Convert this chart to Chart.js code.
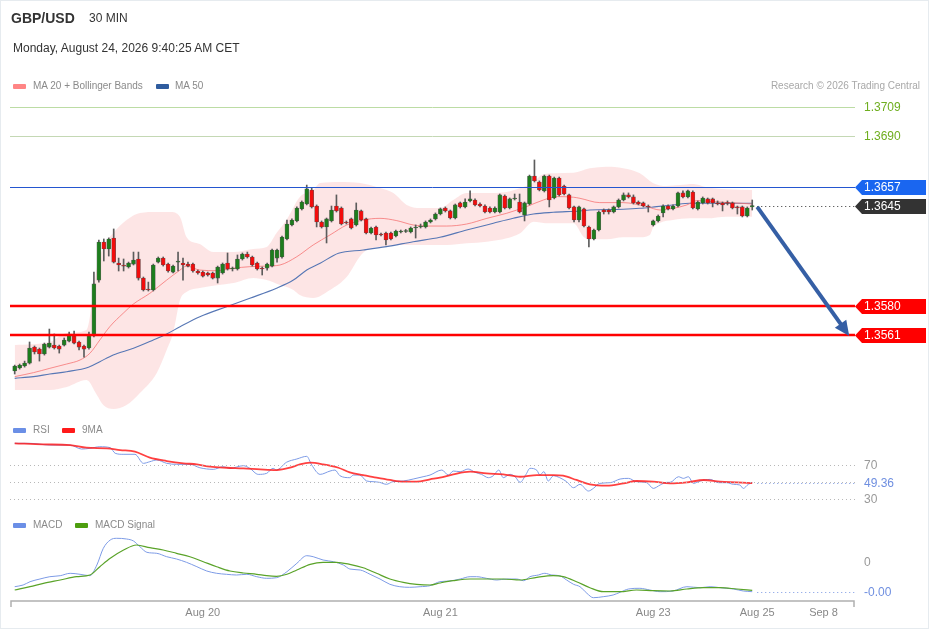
<!DOCTYPE html>
<html>
<head>
<meta charset="utf-8">
<script src="https://cdn.jsdelivr.net/npm/chart.js@4.4.0/dist/chart.umd.min.js"></script>
<style>
html,body{margin:0;padding:0;background:#fff;}
#wrap{position:relative;width:929px;height:629px;overflow:hidden;font-family:"Liberation Sans",Arial,sans-serif;}
#c{position:absolute;left:0;top:0;}
#frame{position:absolute;left:0;top:0;width:929px;height:629px;box-sizing:border-box;border:1px solid #e6ebef;pointer-events:none;}
.t{position:absolute;white-space:nowrap;line-height:1;}
.sw{position:absolute;height:5px;width:13px;border-radius:1px;}
.lg{font-size:10px;color:#8a8a8a;}
</style>
</head>
<body>
<div id="wrap">
  <canvas id="c" width="929" height="629"></canvas>
  <div class="t" style="left:11px;top:11px;font-size:14px;font-weight:bold;color:#333;">GBP/USD</div>
  <div class="t" style="left:89px;top:12px;font-size:12px;color:#333;">30 MIN</div>
  <div class="t" style="left:13px;top:42px;font-size:12px;color:#333;">Monday, August 24, 2026 9:40:25 AM CET</div>

  <div class="sw" style="left:13px;top:84px;background:#ff8585;"></div>
  <div class="t lg" style="left:33px;top:81px;">MA 20 + Bollinger Bands</div>
  <div class="sw" style="left:156px;top:84px;background:#2f5c9e;"></div>
  <div class="t lg" style="left:175px;top:81px;">MA 50</div>
  <div class="t lg" style="right:9px;top:81px;color:#a8a8a8;">Research © 2026 Trading Central</div>

  <div class="sw" style="left:13px;top:428px;background:#6b8fe6;"></div>
  <div class="t lg" style="left:33px;top:425px;">RSI</div>
  <div class="sw" style="left:62px;top:428px;background:#ff1a1a;"></div>
  <div class="t lg" style="left:82px;top:425px;">9MA</div>

  <div class="sw" style="left:13px;top:523px;background:#6b8fe6;"></div>
  <div class="t lg" style="left:33px;top:520px;">MACD</div>
  <div class="sw" style="left:75px;top:523px;background:#4d9e0f;"></div>
  <div class="t lg" style="left:95px;top:520px;">MACD Signal</div>
  <div id="frame"></div>
</div>
<script>
// ---------- DATA ----------
const opens = [1.35376,1.35395,1.35408,1.35427,1.35531,1.35518,1.35486,1.35531,1.35544,1.35538,
1.35544,1.35570,1.35603,1.35564,1.35538,1.35525,1.35603,1.35966,1.36213,1.36168,
1.36239,1.36077,1.36064,1.36051,1.36070,1.36103,1.35979,1.35908,1.35902,1.36083,
1.36109,1.36070,1.36018,1.36083,1.36077,1.36070,1.36070,1.36025,1.36018,1.36012,
1.36012,1.35979,1.36012,1.36077,1.36038,1.36038,1.36103,1.36135,1.36116,1.36077,
1.36044,1.36044,1.36057,1.36109,1.36116,1.36233,1.36324,1.36350,1.36428,1.36460,
1.36551,1.36447,1.36343,1.36311,1.36350,1.36447,1.36434,1.36343,1.36363,1.36324,
1.36415,1.36363,1.36272,1.36311,1.36265,1.36272,1.36272,1.36252,1.36278,1.36282,
1.36278,1.36304,1.36311,1.36311,1.36343,1.36363,1.36395,1.36434,1.36415,1.36369,
1.36467,1.36441,1.36480,1.36486,1.36460,1.36447,1.36434,1.36408,1.36408,1.36512,
1.36434,1.36493,1.36473,1.36389,1.36460,1.36642,1.36603,1.36545,1.36642,1.36499,
1.36629,1.36577,1.36519,1.36441,1.36356,1.36428,1.36311,1.36233,1.36291,1.36421,
1.36421,1.36408,1.36441,1.36486,1.36519,1.36506,1.36473,1.36467,1.36447,1.36324,
1.36350,1.36402,1.36447,1.36428,1.36447,1.36532,1.36506,1.36538,1.36428,1.36467,
1.36493,1.36493,1.36467,1.36467,1.36470,1.36467,1.36441,1.36441,1.36382,1.36441];
const highs = [1.35414,1.35421,1.35440,1.35564,1.35538,1.35525,1.35557,1.35648,1.35616,1.35544,
1.35590,1.35629,1.35635,1.35570,1.35544,1.35629,1.36018,1.36226,1.36233,1.36240,
1.36298,1.36109,1.36103,1.36083,1.36148,1.36148,1.35986,1.35953,1.36070,1.36116,
1.36116,1.36077,1.36064,1.36148,1.36109,1.36083,1.36077,1.36031,1.36025,1.36018,
1.36018,1.36057,1.36077,1.36142,1.36051,1.36129,1.36142,1.36148,1.36122,1.36083,
1.36051,1.36077,1.36168,1.36168,1.36252,1.36356,1.36363,1.36441,1.36480,1.36583,
1.36564,1.36454,1.36350,1.36369,1.36447,1.36519,1.36441,1.36350,1.36369,1.36467,
1.36421,1.36369,1.36311,1.36317,1.36272,1.36278,1.36278,1.36291,1.36291,1.36295,
1.36311,1.36324,1.36330,1.36350,1.36363,1.36402,1.36434,1.36441,1.36421,1.36460,
1.36473,1.36493,1.36545,1.36493,1.36467,1.36454,1.36441,1.36441,1.36525,1.36519,
1.36499,1.36525,1.36525,1.36473,1.36648,1.36746,1.36610,1.36648,1.36648,1.36635,
1.36635,1.36583,1.36525,1.36447,1.36447,1.36434,1.36317,1.36298,1.36415,1.36428,
1.36428,1.36447,1.36493,1.36532,1.36532,1.36519,1.36480,1.36473,1.36454,1.36356,
1.36389,1.36454,1.36454,1.36454,1.36538,1.36545,1.36551,1.36545,1.36480,1.36506,
1.36499,1.36499,1.36480,1.36473,1.36480,1.36473,1.36447,1.36447,1.36441,1.36486];
const lows = [1.35356,1.35388,1.35401,1.35421,1.35486,1.35440,1.35479,1.35525,1.35518,1.35492,
1.35538,1.35564,1.35551,1.35512,1.35466,1.35518,1.35597,1.35953,1.36090,1.36122,
1.36077,1.36025,1.36025,1.36044,1.36064,1.35966,1.35895,1.35895,1.35895,1.36077,
1.36057,1.36018,1.36012,1.36025,1.35966,1.36051,1.36018,1.36005,1.35986,1.35992,
1.35973,1.35947,1.36005,1.36031,1.36025,1.36031,1.36096,1.36109,1.36057,1.36031,
1.35999,1.36031,1.36051,1.36083,1.36109,1.36226,1.36317,1.36343,1.36421,1.36454,
1.36434,1.36311,1.36304,1.36207,1.36343,1.36408,1.36324,1.36330,1.36298,1.36317,
1.36350,1.36265,1.36265,1.36226,1.36252,1.36194,1.36226,1.36246,1.36272,1.36275,
1.36272,1.36239,1.36304,1.36304,1.36337,1.36356,1.36389,1.36408,1.36363,1.36363,
1.36434,1.36434,1.36473,1.36447,1.36441,1.36402,1.36402,1.36402,1.36402,1.36428,
1.36428,1.36486,1.36402,1.36350,1.36454,1.36603,1.36545,1.36538,1.36441,1.36493,
1.36512,1.36519,1.36428,1.36343,1.36343,1.36311,1.36181,1.36226,1.36285,1.36395,
1.36395,1.36402,1.36434,1.36480,1.36499,1.36460,1.36454,1.36441,1.36408,1.36317,
1.36343,1.36376,1.36421,1.36421,1.36441,1.36499,1.36499,1.36428,1.36421,1.36460,
1.36460,1.36441,1.36454,1.36415,1.36454,1.36428,1.36395,1.36376,1.36376,1.36421];
const closes = [1.35408,1.35414,1.35427,1.35525,1.35499,1.35486,1.35551,1.35557,1.35525,1.35518,
1.35577,1.35616,1.35557,1.35531,1.35518,1.35603,1.35941,1.36213,1.36168,1.36233,
1.36083,1.36064,1.36057,1.36077,1.36096,1.35979,1.35902,1.35902,1.36064,1.36109,
1.36064,1.36025,1.36057,1.36090,1.36064,1.36057,1.36025,1.36012,1.35992,1.35999,
1.35979,1.36051,1.36070,1.36038,1.36044,1.36103,1.36135,1.36116,1.36064,1.36038,
1.36038,1.36070,1.36161,1.36161,1.36246,1.36330,1.36356,1.36434,1.36473,1.36558,
1.36441,1.36343,1.36311,1.36363,1.36421,1.36415,1.36330,1.36337,1.36304,1.36421,
1.36356,1.36272,1.36304,1.36259,1.36259,1.36226,1.36233,1.36285,1.36285,1.36288,
1.36304,1.36311,1.36317,1.36343,1.36356,1.36395,1.36428,1.36415,1.36369,1.36454,
1.36441,1.36473,1.36493,1.36454,1.36447,1.36408,1.36408,1.36434,1.36519,1.36434,
1.36493,1.36499,1.36408,1.36467,1.36642,1.36610,1.36551,1.36642,1.36486,1.36629,
1.36519,1.36525,1.36434,1.36356,1.36441,1.36317,1.36233,1.36291,1.36408,1.36408,
1.36408,1.36441,1.36486,1.36519,1.36506,1.36467,1.36460,1.36447,1.36441,1.36350,
1.36382,1.36447,1.36428,1.36447,1.36532,1.36506,1.36545,1.36434,1.36473,1.36499,
1.36467,1.36467,1.36460,1.36454,1.36464,1.36434,1.36434,1.36382,1.36434,1.36450];

const ma20 = [[0,1.35339],[3.8,1.35365],[7.1,1.35393],[10.5,1.35421],[13.2,1.35447],[15.2,1.35491],[17.2,1.35577],[19.2,1.35663],[21.9,1.35750],[24,1.35811],[27.3,1.35880],[30.7,1.35966],[33.4,1.36031],[34.7,1.36057],[37.4,1.36031],[40.8,1.36027],[44.2,1.36043],[47.5,1.36053],[50.9,1.36057],[53.6,1.36064],[57,1.36118],[60.3,1.36194],[63.7,1.36259],[67.1,1.36324],[70.4,1.36356],[73.8,1.36367],[77.2,1.36352],[80.5,1.36324],[83.9,1.36317],[87.3,1.36317],[91.3,1.36330],[95.4,1.36367],[99.4,1.36400],[103.4,1.36443],[106.8,1.36486],[109.5,1.36508],[112.9,1.36504],[114.2,1.36497],[118.2,1.36469],[122.9,1.36469],[127.7,1.36443],[130.4,1.36421],[133,1.36432],[135.8,1.36454],[137.8,1.36482],[141.2,1.36475],[146.5,1.36465],[149,1.36460]];
const ma50 = [[0,1.35328],[3.8,1.35339],[7.1,1.35356],[10.5,1.35371],[14.9,1.35400],[17.2,1.35436],[19.9,1.35480],[24,1.35523],[28,1.35577],[30.7,1.35616],[33.4,1.35663],[37.4,1.35728],[42.8,1.35793],[47.5,1.35848],[52.9,1.35913],[56.3,1.35966],[59,1.36031],[61.7,1.36075],[65.4,1.36140],[70.4,1.36161],[75.1,1.36183],[80.5,1.36215],[85.9,1.36244],[91.3,1.36291],[96.7,1.36335],[100.7,1.36367],[104.8,1.36395],[108.8,1.36406],[114.2,1.36415],[116.2,1.36421],[122.9,1.36426],[126.3,1.36432],[129.7,1.36443],[133,1.36454],[136.4,1.36465],[143.1,1.36465],[149,1.36465]];
const bbUpper = [[0,1.35544],[7.1,1.35564],[10.5,1.35622],[14.5,1.35642],[16.6,1.36045],[17.9,1.36181],[19.9,1.36272],[22.6,1.36356],[25.3,1.36402],[28.7,1.36408],[31.4,1.36408],[33.4,1.36376],[34.7,1.36246],[37.4,1.36200],[40.1,1.36148],[44.2,1.36148],[48.2,1.36168],[50.9,1.36181],[52.9,1.36272],[54.9,1.36356],[57.6,1.36506],[60.3,1.36551],[61.7,1.36596],[65.7,1.36603],[69.8,1.36596],[73.8,1.36564],[76.5,1.36531],[79.2,1.36454],[81.9,1.36434],[85.9,1.36434],[88.6,1.36486],[91.3,1.36531],[95.4,1.36531],[99.4,1.36538],[102.1,1.36564],[104.8,1.36600],[106.5,1.36650],[109,1.36660],[112.9,1.36663],[116.2,1.36692],[119.6,1.36702],[122.9,1.36692],[126.3,1.36659],[129,1.36595],[131.7,1.36577],[134.4,1.36583],[137.1,1.36590],[139.8,1.36569],[143.8,1.36556],[149,1.36551]];
const bbLower = [[0,1.35252],[7.1,1.35252],[10.5,1.35272],[14.5,1.35317],[16.6,1.35220],[17.9,1.35155],[19.9,1.35129],[22.6,1.35155],[25.3,1.35233],[28.7,1.35363],[30.7,1.35512],[32,1.35622],[33.4,1.35837],[34.7,1.35889],[37.4,1.35915],[44.2,1.35947],[48.2,1.35980],[50.9,1.35966],[53.6,1.35934],[56.3,1.35902],[57.6,1.35869],[60.3,1.35850],[63.7,1.35902],[67.1,1.35988],[69.7,1.36118],[71.1,1.36161],[73.8,1.36183],[77.8,1.36194],[83.2,1.36194],[87.3,1.36194],[91.3,1.36205],[95.4,1.36215],[99.4,1.36237],[102.1,1.36270],[104.8,1.36345],[107.5,1.36335],[112.9,1.36335],[114.9,1.36248],[116.2,1.36231],[119.6,1.36231],[122.9,1.36244],[126.3,1.36244],[128.3,1.36259],[129,1.36309],[130.4,1.36339],[133,1.36356],[136.4,1.36367],[139.8,1.36367],[143.8,1.36378],[149,1.36378]];

const rsi = [[0,95.5],[3.1,95.5],[7.1,93.5],[11.2,93.5],[13.5,88.8],[15.2,89.6],[17.2,91.5],[19.3,90.4],[20.3,83.8],[21.9,82.6],[24.3,82.6],[26,72],[27.3,73.9],[28.7,75.9],[30.7,72],[32.7,70.8],[35.4,70.8],[37.4,66.8],[40.1,64.9],[42.1,68],[43.5,66.1],[46.2,69.2],[47.5,66.1],[49.2,59],[50.9,60.2],[52.2,66.1],[52.9,64.1],[54.9,73.2],[57,77.1],[59,80.2],[60,70],[61.7,59],[63.7,62.9],[64.7,64.1],[65.7,57.4],[67.7,55.1],[68.4,58.2],[69.7,58.2],[71.1,51.2],[72.4,50.4],[73.7,49.6],[75.1,47.3],[76.4,50.4],[78.5,51.2],[80.5,53.5],[82.5,56.2],[83.9,58.2],[86.3,64.1],[87.6,58.2],[88.6,62.9],[90,62.2],[91.6,65.3],[93,61.4],[94.3,59],[95.7,55.1],[96.7,57.4],[97.8,64.1],[98.7,55.1],[100.1,59],[101.1,56.2],[102.1,49.6],[103.3,59],[104.1,66.1],[105.5,63.7],[106.1,58.2],[106.9,62.2],[107.8,51.2],[108.8,57.4],[110.1,55.1],[111.5,50.4],[112.9,43.3],[114.2,47.3],[115.9,39.4],[116.9,42.5],[118.2,48.4],[120.3,49.2],[122.3,53.5],[124,54.3],[125.6,50.4],[127.7,49.2],[129,42.5],[130.4,46.5],[131.7,49.6],[132.4,49.6],[134.1,56.2],[135.1,54.3],[136.1,56.2],[137.1,48.4],[138.5,51.2],[140.5,53.1],[142.2,49.2],[143.8,49.2],[145.2,47.3],[146.5,46.5],[147.2,42.5],[148.2,47.3],[149,49.36]];
const rsiMA9 = [[0,95.5],[5.8,94.3],[11.2,93.5],[14.5,90.4],[18.6,89.6],[21.3,87.6],[24.3,85.7],[27.3,78.6],[30.7,74.7],[34.1,72],[36.8,70.8],[39.5,68],[42.8,66.8],[46.2,66.1],[49.6,64.9],[52.9,64.1],[55.6,66.8],[57.6,70.8],[59.7,72.7],[62.3,70.8],[65.4,66.8],[67.7,61.4],[70.4,58.2],[73.1,55.1],[75.8,52.4],[78.5,50.4],[81.2,50.4],[83.9,53.2],[85.9,55.1],[88.6,59],[92,62.2],[95.3,60.2],[98.7,59],[102.1,56.2],[105.5,58.2],[108.8,58.2],[110.8,57.4],[113.5,52.4],[116.2,47.3],[119.6,45.7],[123,48.4],[125.6,51.2],[129,50.4],[132.4,48.4],[135.8,49.6],[139.2,52.4],[142.5,50.4],[145.9,49.6],[149,48.6]];

const macd = [[0,-2.47e-4],[1.7,-2.3e-4],[3.1,-1.97e-4],[5.1,-1.7e-4],[7.1,-1.47e-4],[9.2,-1.37e-4],[11.2,-1.13e-4],[13.2,-1.23e-4],[15.2,-1.37e-4],[16.6,-0.3e-4],[17.9,1.37e-4],[19.3,2.2e-4],[20.6,2.37e-4],[22.6,2.3e-4],[24,2.1e-4],[25.3,1.53e-4],[26.7,0.97e-4],[28.7,0.87e-4],[30.7,0.53e-4],[32.7,0.3e-4],[34.7,-0.03e-4],[36.8,-0.47e-4],[38.8,-0.9e-4],[40.8,-1.13e-4],[42.8,-1.23e-4],[44.8,-1.3e-4],[46.9,-1.23e-4],[48.9,-1.47e-4],[50.9,-1.63e-4],[52.9,-1.57e-4],[55,-0.97e-4],[57,-0.13e-4],[59,0.63e-4],[60.3,0.53e-4],[62.3,0.2e-4],[64.4,0.03e-4],[66.4,-0.3e-4],[67.7,-0.7e-4],[69.8,-0.8e-4],[71.8,-1.23e-4],[73.8,-1.7e-4],[75.8,-2.23e-4],[77.8,-2.47e-4],[79.8,-2.53e-4],[81.9,-2.47e-4],[83.9,-2.37e-4],[85.9,-1.97e-4],[87.9,-1.9e-4],[90,-1.7e-4],[92,-1.47e-4],[93.3,-1.47e-4],[95.3,-1.63e-4],[97.4,-1.8e-4],[99.4,-1.7e-4],[101.4,-1.7e-4],[102.8,-1.87e-4],[104.1,-1.47e-4],[105.8,-1.3e-4],[107.1,-1.13e-4],[108.5,-1.3e-4],[110.1,-1.37e-4],[111.5,-1.8e-4],[112.9,-2.23e-4],[114.2,-2.47e-4],[115.6,-3.13e-4],[116.9,-3.57e-4],[118.9,-3.47e-4],[120.9,-3.3e-4],[122.3,-3.03e-4],[124,-2.7e-4],[126.3,-2.63e-4],[128.3,-2.8e-4],[130.4,-2.97e-4],[133,-2.9e-4],[135.8,-2.47e-4],[138.5,-2.57e-4],[140.5,-2.47e-4],[142.5,-2.57e-4],[145.2,-2.7e-4],[147.2,-2.9e-4],[149,-2.97e-4]];
const macdSignal = [[0,-2.8e-4],[3.1,-2.47e-4],[5.8,-2.13e-4],[9.2,-1.8e-4],[12.5,-1.47e-4],[15.2,-1.3e-4],[17.2,-0.47e-4],[19.3,0.37e-4],[22,1.2e-4],[24.6,1.7e-4],[27.3,1.43e-4],[30,1.2e-4],[32.7,0.87e-4],[35.4,0.53e-4],[38.1,0.03e-4],[40.8,-0.47e-4],[43.5,-0.9e-4],[46.2,-1.1e-4],[48.9,-1.23e-4],[50.9,-1.37e-4],[52.9,-1.43e-4],[55,-1.23e-4],[57,-0.8e-4],[59.7,-0.23e-4],[62.3,-0.03e-4],[65,-0.03e-4],[67.7,-0.23e-4],[70.4,-0.57e-4],[73.1,-1.13e-4],[75.8,-1.7e-4],[78.5,-2.03e-4],[81.2,-2.23e-4],[83.9,-2.3e-4],[85.9,-2.1e-4],[88.6,-1.87e-4],[92,-1.7e-4],[95.3,-1.7e-4],[98.7,-1.7e-4],[102.1,-1.8e-4],[105.5,-1.53e-4],[108.8,-1.37e-4],[110.8,-1.47e-4],[113.5,-1.97e-4],[116.2,-2.57e-4],[118.9,-2.97e-4],[122.3,-2.97e-4],[125.6,-2.8e-4],[129,-2.87e-4],[132.4,-2.9e-4],[135.8,-2.7e-4],[139.2,-2.57e-4],[142.5,-2.57e-4],[145.9,-2.7e-4],[149,-2.83e-4]];

const levels = [1.3709, 1.3690, 1.3657, 1.3645, 1.3580, 1.3561];
const rsiLevels = [70, 50, 30];
const rsiLast = 49.36;
const macdZero = 0;
const macdLast = -2.97e-4;
const xTickPos = [38, 86, 129, 150, 163.4];
const xTickLabels = ['Aug 20', 'Aug 21', 'Aug 23', 'Aug 25', 'Sep 8'];
const arrowFrom = [150, 1.36441];
const arrowTo = [168.6, 1.35603];

// ---------- CHART ----------
const idx = opens.map((_, i) => i);
const GREEN = '#1d7d1d', RED = '#f20d0d';
const FONT = '"Liberation Sans", Arial, sans-serif';

const overlay = {
  id: 'overlay',
  afterDatasetsDraw(chart) {
    const {ctx, chartArea: ca, scales} = chart;
    const X = scales.x, P = scales.yP, R = scales.yR, M = scales.yM;
    const L = ca.left, RT = ca.right;
    const lastX = X.getPixelForValue(opens.length - 1) + 5;
    ctx.save();
    function hline(y, x1, x2, color, w, dash) {
      ctx.beginPath();
      ctx.setLineDash(dash || []);
      ctx.strokeStyle = color; ctx.lineWidth = w;
      ctx.moveTo(x1, y); ctx.lineTo(x2, y); ctx.stroke();
      ctx.setLineDash([]);
    }
    function tag(y, text, bg) {
      ctx.fillStyle = bg;
      ctx.beginPath();
      ctx.moveTo(RT, y); ctx.lineTo(RT + 7, y - 7.5); ctx.lineTo(RT + 71, y - 7.5);
      ctx.lineTo(RT + 71, y + 7.5); ctx.lineTo(RT + 7, y + 7.5); ctx.closePath(); ctx.fill();
      ctx.fillStyle = '#fff'; ctx.font = '12px ' + FONT; ctx.textBaseline = 'middle'; ctx.textAlign = 'left';
      ctx.fillText(text, RT + 9, y + 0.5);
    }
    function txt(y, text, color) {
      ctx.fillStyle = color; ctx.font = '12px ' + FONT; ctx.textBaseline = 'middle'; ctx.textAlign = 'left';
      ctx.fillText(text, RT + 9, y + 0.5);
    }
    // price levels
    const py = levels.map(v => Math.round(P.getPixelForValue(v)) + 0.5);
    hline(py[0], L, RT, '#bcdca4', 1); txt(py[0], levels[0].toFixed(4), '#6fae1f');
    hline(py[1], L, RT, '#c4d8b4', 1); txt(py[1], levels[1].toFixed(4), '#6fae1f');
    hline(py[2], L, RT, '#2456d0', 1); tag(py[2], levels[2].toFixed(4), '#1a66f0');
    hline(py[3], lastX, RT, '#333', 1, [1, 3]); tag(py[3], levels[3].toFixed(4), '#333333');
    hline(py[4] - 0.5, L, RT, '#ff0000', 2.5); tag(py[4], levels[4].toFixed(4), '#ff0000');
    hline(py[5] - 0.5, L, RT, '#ff0000', 2.5); tag(py[5], levels[5].toFixed(4), '#ff0000');

    // arrow
    const ax1 = X.getPixelForValue(arrowFrom[0]), ay1 = P.getPixelForValue(arrowFrom[1]);
    const ax2 = X.getPixelForValue(arrowTo[0]), ay2 = P.getPixelForValue(arrowTo[1]);
    const ang = Math.atan2(ay2 - ay1, ax2 - ax1);
    const hl = 15, hw = 7;
    const bx = ax2 - hl * Math.cos(ang), by = ay2 - hl * Math.sin(ang);
    ctx.strokeStyle = '#355fa5'; ctx.lineWidth = 4; ctx.lineCap = 'butt';
    ctx.beginPath(); ctx.moveTo(ax1, ay1); ctx.lineTo(bx + 2 * Math.cos(ang), by + 2 * Math.sin(ang)); ctx.stroke();
    ctx.fillStyle = '#355fa5';
    ctx.beginPath();
    ctx.moveTo(ax2, ay2);
    ctx.lineTo(bx + hw * Math.sin(ang), by - hw * Math.cos(ang));
    ctx.lineTo(bx - hw * Math.sin(ang), by + hw * Math.cos(ang));
    ctx.closePath(); ctx.fill();

    // RSI panel
    rsiLevels.forEach(v => hline(Math.round(R.getPixelForValue(v)) + 0.5, L, RT, '#b8b8b8', 1, [1, 3]));
    txt(R.getPixelForValue(rsiLevels[0]), String(rsiLevels[0]), '#999');
    txt(R.getPixelForValue(rsiLevels[2]), String(rsiLevels[2]), '#999');
    const ry = Math.round(R.getPixelForValue(rsiLast)) + 0.5;
    hline(ry, lastX, RT, '#7b98e4', 1, [1, 3]);
    txt(ry, rsiLast.toFixed(2), '#6f8fe0');

    // MACD panel
    txt(M.getPixelForValue(macdZero), String(macdZero), '#999');
    const my = Math.round(M.getPixelForValue(macdLast)) + 0.5;
    hline(my, lastX, RT, '#7b98e4', 1, [1, 3]);
    txt(my, macdLast.toFixed(2), '#6f8fe0');

    // x axis
    const yb = ca.bottom + 1;
    ctx.strokeStyle = '#b0b0b0'; ctx.lineWidth = 1.5;
    ctx.beginPath();
    ctx.moveTo(L + 1, yb + 6); ctx.lineTo(L + 1, yb); ctx.lineTo(RT - 1, yb); ctx.lineTo(RT - 1, yb + 6);
    ctx.stroke();
    ctx.fillStyle = '#888'; ctx.font = '11px ' + FONT; ctx.textAlign = 'center'; ctx.textBaseline = 'middle';
    xTickPos.forEach((v, k) => ctx.fillText(xTickLabels[k], X.getPixelForValue(v), yb + 12));
    ctx.restore();
  }
};

const lineDs = (data, color, w, axis, order) => ({
  type: 'line', data, borderColor: color, borderWidth: w, pointRadius: 0,
  tension: 0.3, cubicInterpolationMode: 'monotone', fill: false, yAxisID: axis, order
});

new Chart(document.getElementById('c'), {
  type: 'line',
  data: {
    datasets: [
      { type: 'bar', label: 'body', order: 1, yAxisID: 'yP', grouped: false, barThickness: 4,
        data: idx.map(i => ({x: i, y: [opens[i], closes[i]]})),
        backgroundColor: idx.map(i => closes[i] >= opens[i] ? GREEN : RED),
        borderColor: 'rgba(50,50,50,0.75)', borderWidth: 0.6, borderSkipped: false },
      { type: 'bar', label: 'wick', order: 2, yAxisID: 'yP', grouped: false, barThickness: 1,
        data: idx.map(i => ({x: i, y: [lows[i], highs[i]]})),
        backgroundColor: '#5c5c5c', borderWidth: 0 },
      lineDs(ma20, 'rgba(245,110,110,0.75)', 1, 'yP', 3),
      lineDs(ma50, '#5777b5', 1.1, 'yP', 4),
      Object.assign(lineDs(bbUpper, 'rgba(0,0,0,0)', 0, 'yP', 5), {fill: '+1', backgroundColor: 'rgba(250,175,175,0.32)'}),
      lineDs(bbLower, 'rgba(0,0,0,0)', 0, 'yP', 6),
      lineDs(rsi, '#7d9be6', 1, 'yR', 2),
      lineDs(rsiMA9, 'rgba(255,30,30,0.85)', 1.8, 'yR', 1),
      lineDs(macd, '#7d9be6', 1, 'yM', 2),
      lineDs(macdSignal, '#5aa329', 1.2, 'yM', 1)
    ]
  },
  options: {
    responsive: false,
    animation: false,
    events: [],
    layout: { padding: { left: 10, right: 74, top: 95, bottom: 29 } },
    plugins: { legend: { display: false }, tooltip: { enabled: false } },
    scales: {
      x: { type: 'linear', display: false, min: -0.95, max: 169.76, offset: false },
      yP: { type: 'linear', display: false, min: 1.338885, max: 1.371679 },
      yR: { type: 'linear', display: false, min: -88.8, max: 505.3 },
      yM: { type: 'linear', display: false, min: -3.8e-4, max: 46.7e-4 }
    }
  },
  plugins: [overlay]
});
</script>
</body>
</html>
